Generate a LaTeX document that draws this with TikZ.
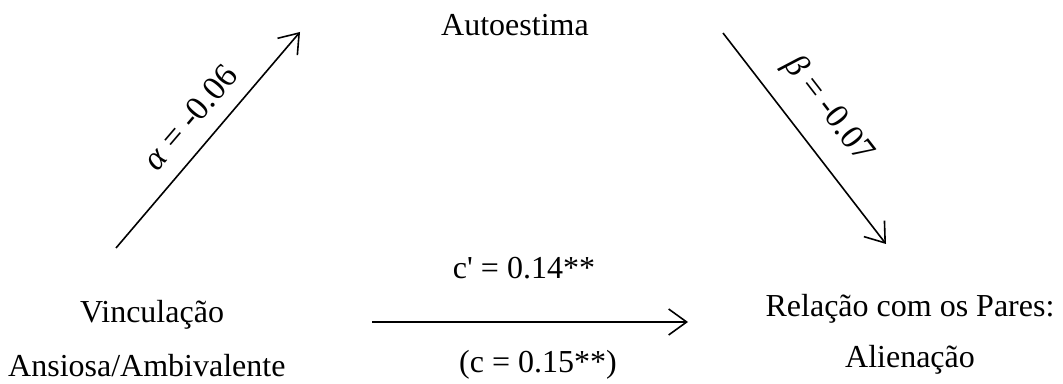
\documentclass[tikz,border=0pt]{standalone}
\usepackage{fontspec}
\setmainfont{Liberation Serif}
\usetikzlibrary{arrows.meta}

\begin{document}
\begin{tikzpicture}[x=1pt,y=1pt,
  txt/.style={font=\fontsize{32}{38}\selectfont, inner sep=0pt},
  coef/.style={font=\fontsize{34}{40}\selectfont, inner sep=0pt, sloped},
  link/.style={line width=1.6pt, -{Straight Barb[length=18pt,width=26pt]}}]
  \useasboundingbox (0,0) rectangle (1063,383);
  % variables
  \node[txt,anchor=base] (auto) at (515,347) {Autoestima};
  \node[txt,anchor=base west] (vinc) at (80,60) {Vinculação};
  \node[txt,anchor=base west] (ansi) at (8,6) {Ansiosa/Ambivalente};
  \node[txt,anchor=base] (rel) at (910,66) {Relação com os Pares:};
  \node[txt,anchor=base] (alien) at (910,16) {Alienação};
  % path ends
  \coordinate (a0) at (116,135);
  \coordinate (a1) at (300,351);
  \coordinate (b0) at (723,350);
  \coordinate (b1) at (886,139);
  \coordinate (c0) at (372,61);
  \coordinate (c1) at (688,61);
  % paths
  \draw[link] (a0) -- node[coef,above=16pt,pos=0.52] (alab) {\textit{α} = -0.06} (a1);
  \draw[link] (b0) -- node[coef,above=20pt,pos=0.47] (blab) {\textit{β} = -0.07} (b1);
  \draw[link] (c0) -- node[txt,above=42pt,xshift=-6pt] (clab) {c\textquotesingle{} = 0.14**}
    node[txt,below=27pt,xshift=8pt] (ctot) {(c = 0.15**)} (c1);
\end{tikzpicture}
\end{document}
